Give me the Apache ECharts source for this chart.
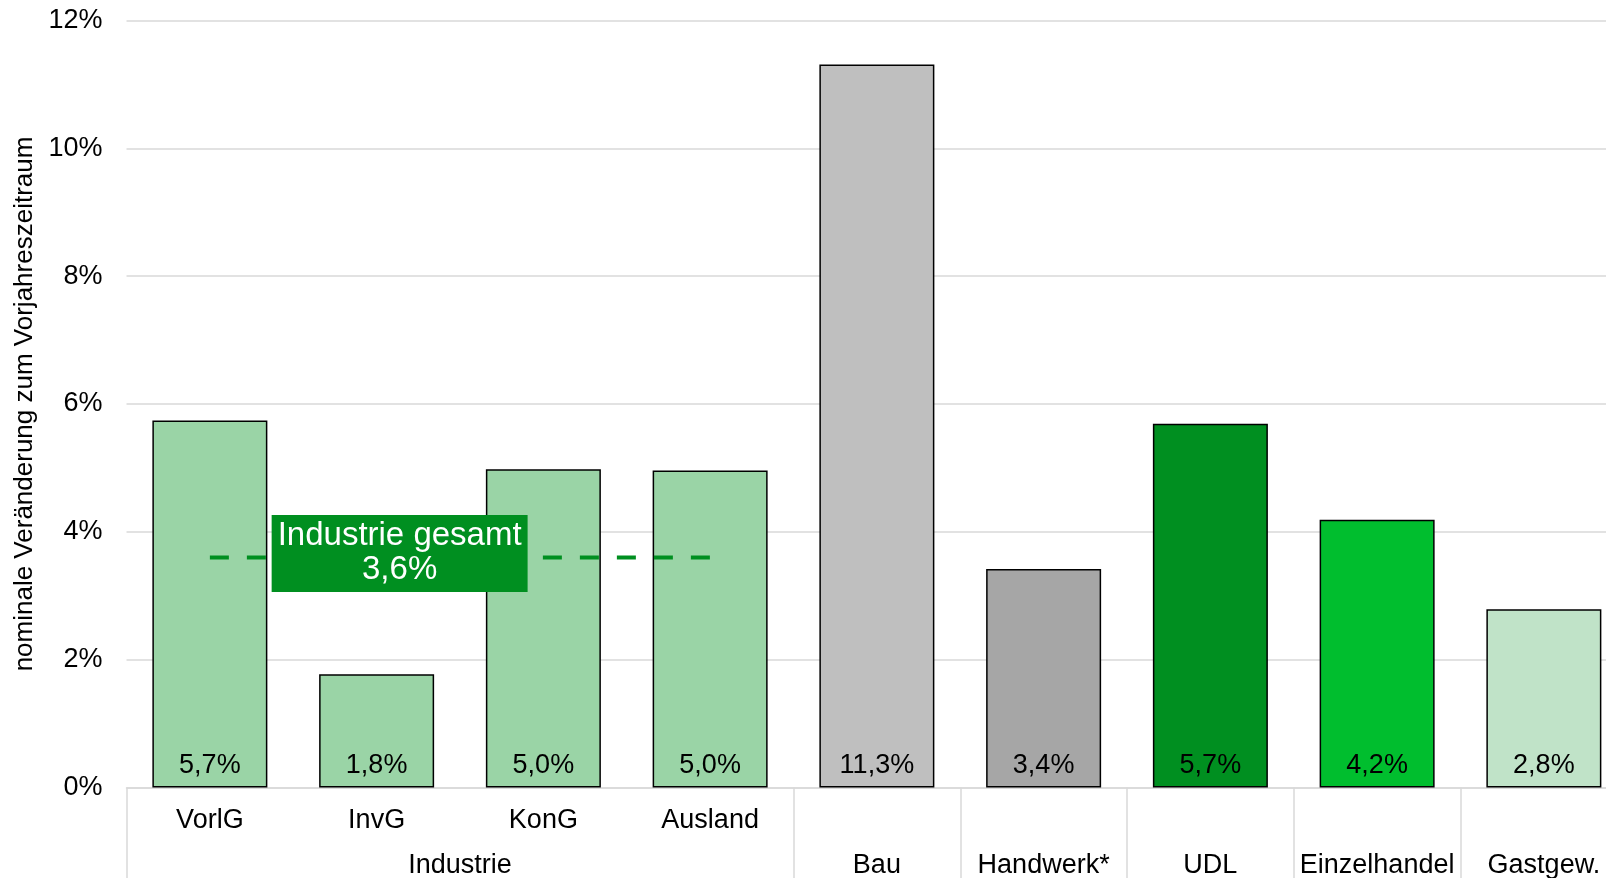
<!DOCTYPE html>
<html>
<head>
<meta charset="utf-8">
<script src="https://cdn.jsdelivr.net/npm/echarts@6/dist/echarts.min.js"></script>
<style>
html,body{margin:0;padding:0;background:#fff;}
#chart{width:1606px;height:878px;}
</style>
</head>
<body>
<div id="chart"></div>
<script>
// ---- data ----
const categories = ['VorlG', 'InvG', 'KonG', 'Ausland', 'Bau', 'Handwerk*', 'UDL', 'Einzelhandel', 'Gastgew.'];
const innerLabels = ['VorlG', 'InvG', 'KonG', 'Ausland', '', '', '', '', ''];
const groupNames = ['Industrie', 'Bau', 'Handwerk*', 'UDL', 'Einzelhandel', 'Gastgew.'];
const groupSizes = [4, 1, 1, 1, 1, 1];
const values = [5.74, 1.77, 4.98, 4.96, 11.31, 3.42, 5.69, 4.19, 2.79];
const industrieAvg = [3.6, 3.6, 3.6, 3.6, null, null, null, null, null];
const avgLabel = 'Industrie gesamt';
const avgLabelAt = 'InvG';
const yTicks = [0, 2, 4, 6, 8, 10, 12];
const yAxisName = 'nominale Veränderung zum Vorjahreszeitraum';

// ---- styles ----
const barColors = ['#9AD4A6', '#9AD4A6', '#9AD4A6', '#9AD4A6', '#BFBFBF', '#A6A6A6', '#008F20', '#00BE2E', '#C0E3C8'];
const FONT = "'Liberation Sans', Arial, sans-serif";
const GRID_COLOR = '#D9D9D9';
const fmt = v => v.toFixed(1).replace('.', ',') + '%';

// group boundaries and centers
const bounds = [0];
const centers = [];
groupSizes.forEach(s => {
  const start = bounds[bounds.length - 1];
  centers.push(start + s / 2);
  bounds.push(start + s);
});
const avgIdx = categories.indexOf(avgLabelAt);

const chart = echarts.init(document.getElementById('chart'), null, {renderer: 'canvas'});
chart.setOption({
  animation: false,
  backgroundColor: '#fff',
  textStyle: {fontFamily: FONT},
  grid: {left: 126.5, width: 1500.75, top: 20.5, bottom: 90.5, containLabel: false, outerBoundsMode: 'none'},
  xAxis: [
    {
      type: 'category',
      data: categories,
      boundaryGap: true,
      axisLine: {show: true, lineStyle: {color: GRID_COLOR, width: 1.5}},
      axisTick: {show: false},
      axisLabel: {
        interval: 0, margin: 20, fontSize: 27, color: '#000', fontFamily: FONT,
        formatter: (v, i) => innerLabels[i]
      }
    },
    {
      type: 'value',
      min: 0,
      max: categories.length,
      position: 'bottom',
      axisLine: {show: false},
      splitLine: {show: false},
      axisTick: {show: true, customValues: bounds, length: 95, lineStyle: {color: GRID_COLOR, width: 1.5}},
      axisLabel: {
        customValues: centers, margin: 65, fontSize: 27, color: '#000', fontFamily: FONT,
        formatter: v => {
          const k = centers.findIndex(c => Math.abs(c - v) < 1e-6);
          return k >= 0 ? groupNames[k] : '';
        }
      }
    }
  ],
  yAxis: {
    type: 'value',
    min: yTicks[0],
    max: yTicks[yTicks.length - 1],
    interval: yTicks[1] - yTicks[0],
    name: yAxisName,
    nameLocation: 'middle',
    nameRotate: 90,
    nameGap: 88,
    nameTextStyle: {fontSize: 26, color: '#000', fontFamily: FONT},
    axisLine: {show: false},
    axisTick: {show: false},
    axisLabel: {fontSize: 27, color: '#000', margin: 24, fontFamily: FONT, formatter: v => v + '%'},
    splitLine: {show: true, lineStyle: {color: GRID_COLOR, width: 1.5}}
  },
  series: [
    {
      type: 'bar',
      xAxisIndex: 0,
      barWidth: 115,
      data: values.map((v, i) => ({value: v, itemStyle: {color: barColors[i]}})),
      itemStyle: {borderColor: '#000', borderWidth: 1.5},
      label: {
        show: true, position: 'insideBottom', distance: 8,
        fontSize: 27, lineHeight: 27, color: '#000', fontFamily: FONT,
        formatter: p => fmt(p.value)
      },
      z: 2
    },
    {
      type: 'line',
      xAxisIndex: 0,
      data: industrieAvg,
      symbol: 'none',
      showSymbol: false,
      lineStyle: {color: '#008F20', width: 4, type: [19, 18]},
      connectNulls: false,
      z: 3,
      markPoint: {
        silent: true,
        symbol: 'rect',
        symbolSize: 1,
        itemStyle: {color: 'rgba(0,0,0,0)'},
        data: [{coord: [avgLabelAt, industrieAvg[avgIdx]], value: industrieAvg[avgIdx]}],
        label: {
          show: true, position: 'inside', offset: [23, -4],
          formatter: p => avgLabel + '\n' + fmt(p.value),
          backgroundColor: '#008F20', color: '#fff',
          fontSize: 33, lineHeight: 34, padding: [5, 6, 4, 6],
          fontFamily: FONT, align: 'center', verticalAlign: 'middle'
        },
        z: 5
      }
    }
  ]
});
</script>
</body>
</html>
